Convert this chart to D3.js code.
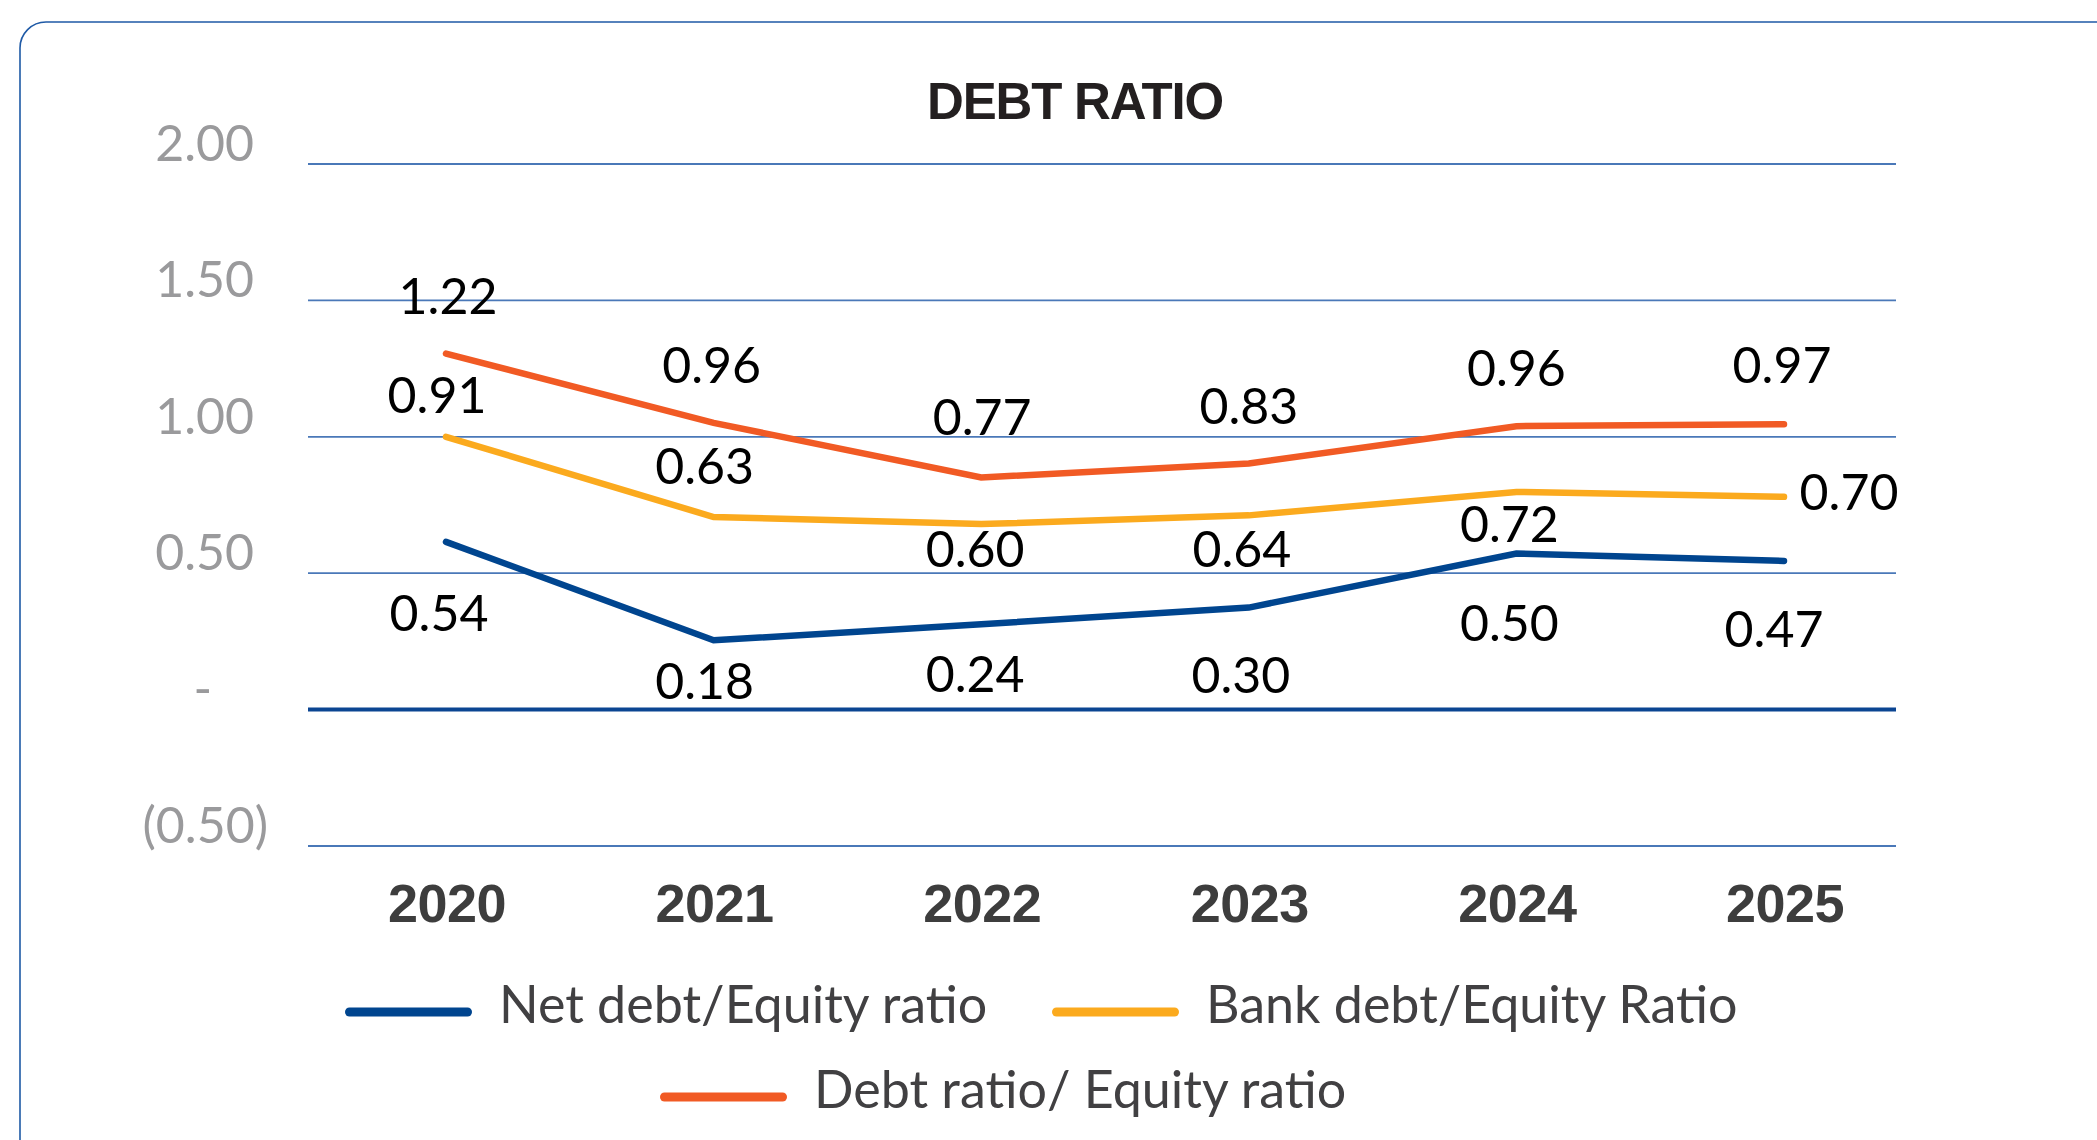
<!DOCTYPE html>
<html>
<head>
<meta charset="utf-8">
<script src="https://cdn.jsdelivr.net/npm/d3@7"></script>
<style>
  html, body { margin: 0; padding: 0; background: #ffffff; }
  svg { display: block; }
</style>
</head>
<body>
<svg id="chart" width="2097" height="1140"></svg>
<script>
// ---------------- DATA ----------------
const years = ["2020", "2021", "2022", "2023", "2024", "2025"];
const seriesNames = ["Net debt/Equity ratio", "Bank debt/Equity Ratio", "Debt ratio/ Equity ratio"];
// plotted line values (as drawn in the picture)
const netDebtLine  = [0.615, 0.254, 0.313, 0.374, 0.572, 0.545];
const bankDebtLine = [1.000, 0.706, 0.680, 0.712, 0.798, 0.780];
const debtLine     = [1.305, 1.051, 0.851, 0.902, 1.039, 1.046];
// printed data labels
const netDebtLabels  = [0.54, 0.18, 0.24, 0.30, 0.50, 0.47];
const bankDebtLabels = [0.91, 0.63, 0.60, 0.64, 0.72, 0.70];
const debtLabels     = [1.22, 0.96, 0.77, 0.83, 0.96, 0.97];
const yTicks = [2.0, 1.5, 1.0, 0.5, 0, -0.5];
const title = "DEBT RATIO";

// ---------------- LAYOUT ----------------
const W = 2097, H = 1140;
const colors = ["#00458f", "#fbaa1e", "#f15a24"];
const labelOffsets = [
  [[-7, 89], [-9, 59], [-6, 68], [-8, 85], [-7, 87], [-10, 86]],
  [[-9, -24], [-9, -33], [-6, 43], [-7, 52], [-7, 50], [65, 13]],
  [[2, -40], [-2, -40], [1, -42], [0, -40], [0, -40], [-2, -41]]
];
const legendLayout = [
  { x: 345, y: 1012 },
  { x: 1052, y: 1012 },
  { x: 660, y: 1097 }
];

const svg = d3.select("#chart");
svg.append("rect").attr("width", W).attr("height", H).attr("fill", "#ffffff");

// frame (rounded box running off the right and bottom edges)
svg.append("rect")
  .attr("x", 20).attr("y", 22)
  .attr("width", W + 40).attr("height", H + 40)
  .attr("rx", 26).attr("ry", 26)
  .attr("fill", "none")
  .attr("stroke", "#1f5aa6")
  .attr("stroke-width", 1.6);

const x = d3.scalePoint().domain(years).range([446, 1784]);
const y = d3.scaleLinear().domain([-0.5, 2.0]).range([846, 164]);
const gridX0 = 308, gridX1 = 1896;

// gridlines
svg.append("g").selectAll("line")
  .data(yTicks)
  .join("line")
  .attr("x1", gridX0).attr("x2", gridX1)
  .attr("y1", d => y(d)).attr("y2", d => y(d))
  .attr("stroke", d => d === 0 ? "#0b4592" : "#4a78b8")
  .attr("stroke-width", d => d === 0 ? 4 : 1.8);

// y tick labels (accounting style)
const fmt = v => v === 0 ? "-" : (v < 0 ? "(" + d3.format(".2f")(-v) + ")" : d3.format(".2f")(v));
svg.append("g").selectAll("text")
  .data(yTicks)
  .join("text")
  .attr("x", d => d === 0 ? 212 : (d < 0 ? 268 : 254))
  .attr("y", d => d === 0 ? y(d) - 4 : y(d) - 3)
  .attr("text-anchor", "end")
  .attr("font-family", "Lato, 'Open Sans', sans-serif")
  .attr("font-size", 50)
  .attr("fill", "#9a9a9c")
  .text(fmt);

// title
svg.append("text")
  .attr("x", 1075).attr("y", 119)
  .attr("text-anchor", "middle")
  .attr("font-family", "'Liberation Sans', Arial, sans-serif")
  .attr("font-weight", "bold")
  .attr("font-size", 51)
  .attr("letter-spacing", -1.2)
  .attr("fill", "#231f20")
  .text(title);

// x axis year labels
svg.append("g").selectAll("text")
  .data(years)
  .join("text")
  .attr("x", d => x(d) + 1)
  .attr("y", 922)
  .attr("text-anchor", "middle")
  .attr("font-family", "'Liberation Sans', Arial, sans-serif")
  .attr("font-weight", "bold")
  .attr("font-size", 54)
  .attr("letter-spacing", -0.5)
  .attr("fill", "#3d3d3d")
  .text(d => d);

// lines
const lineValues = [netDebtLine, bankDebtLine, debtLine];
const labelValues = [netDebtLabels, bankDebtLabels, debtLabels];
const line = d3.line().x(d => x(d.year)).y(d => y(d.v));

lineValues.forEach((vals, si) => {
  const pts = years.map((yr, i) => ({ year: yr, v: vals[i] }));
  svg.append("path")
    .datum(pts)
    .attr("d", line)
    .attr("fill", "none")
    .attr("stroke", colors[si])
    .attr("stroke-width", 6.5)
    .attr("stroke-linecap", "round")
    .attr("stroke-linejoin", "miter");
});

// data labels
labelValues.forEach((labs, si) => {
  svg.append("g").selectAll("text")
    .data(labs)
    .join("text")
    .attr("x", (d, i) => x(years[i]) + labelOffsets[si][i][0])
    .attr("y", (d, i) => y(lineValues[si][i]) + labelOffsets[si][i][1])
    .attr("text-anchor", "middle")
    .attr("font-family", "Lato, 'Open Sans', sans-serif")
    .attr("font-size", 50)
    .attr("fill", "#000000")
    .text(d => d3.format(".2f")(d));
});

// legend
const lg = svg.append("g");
seriesNames.forEach((name, si) => {
  const L = legendLayout[si];
  lg.append("line")
    .attr("x1", L.x + 4.5).attr("x2", L.x + 127 - 4.5)
    .attr("y1", L.y).attr("y2", L.y)
    .attr("stroke", colors[si])
    .attr("stroke-width", 9)
    .attr("stroke-linecap", "round");
  lg.append("text")
    .attr("x", L.x + 154)
    .attr("y", L.y + 11)
    .attr("font-family", "Lato, 'Open Sans', sans-serif")
    .attr("font-size", 52)
    .attr("fill", "#414042")
    .text(name);
});
</script>
</body>
</html>
